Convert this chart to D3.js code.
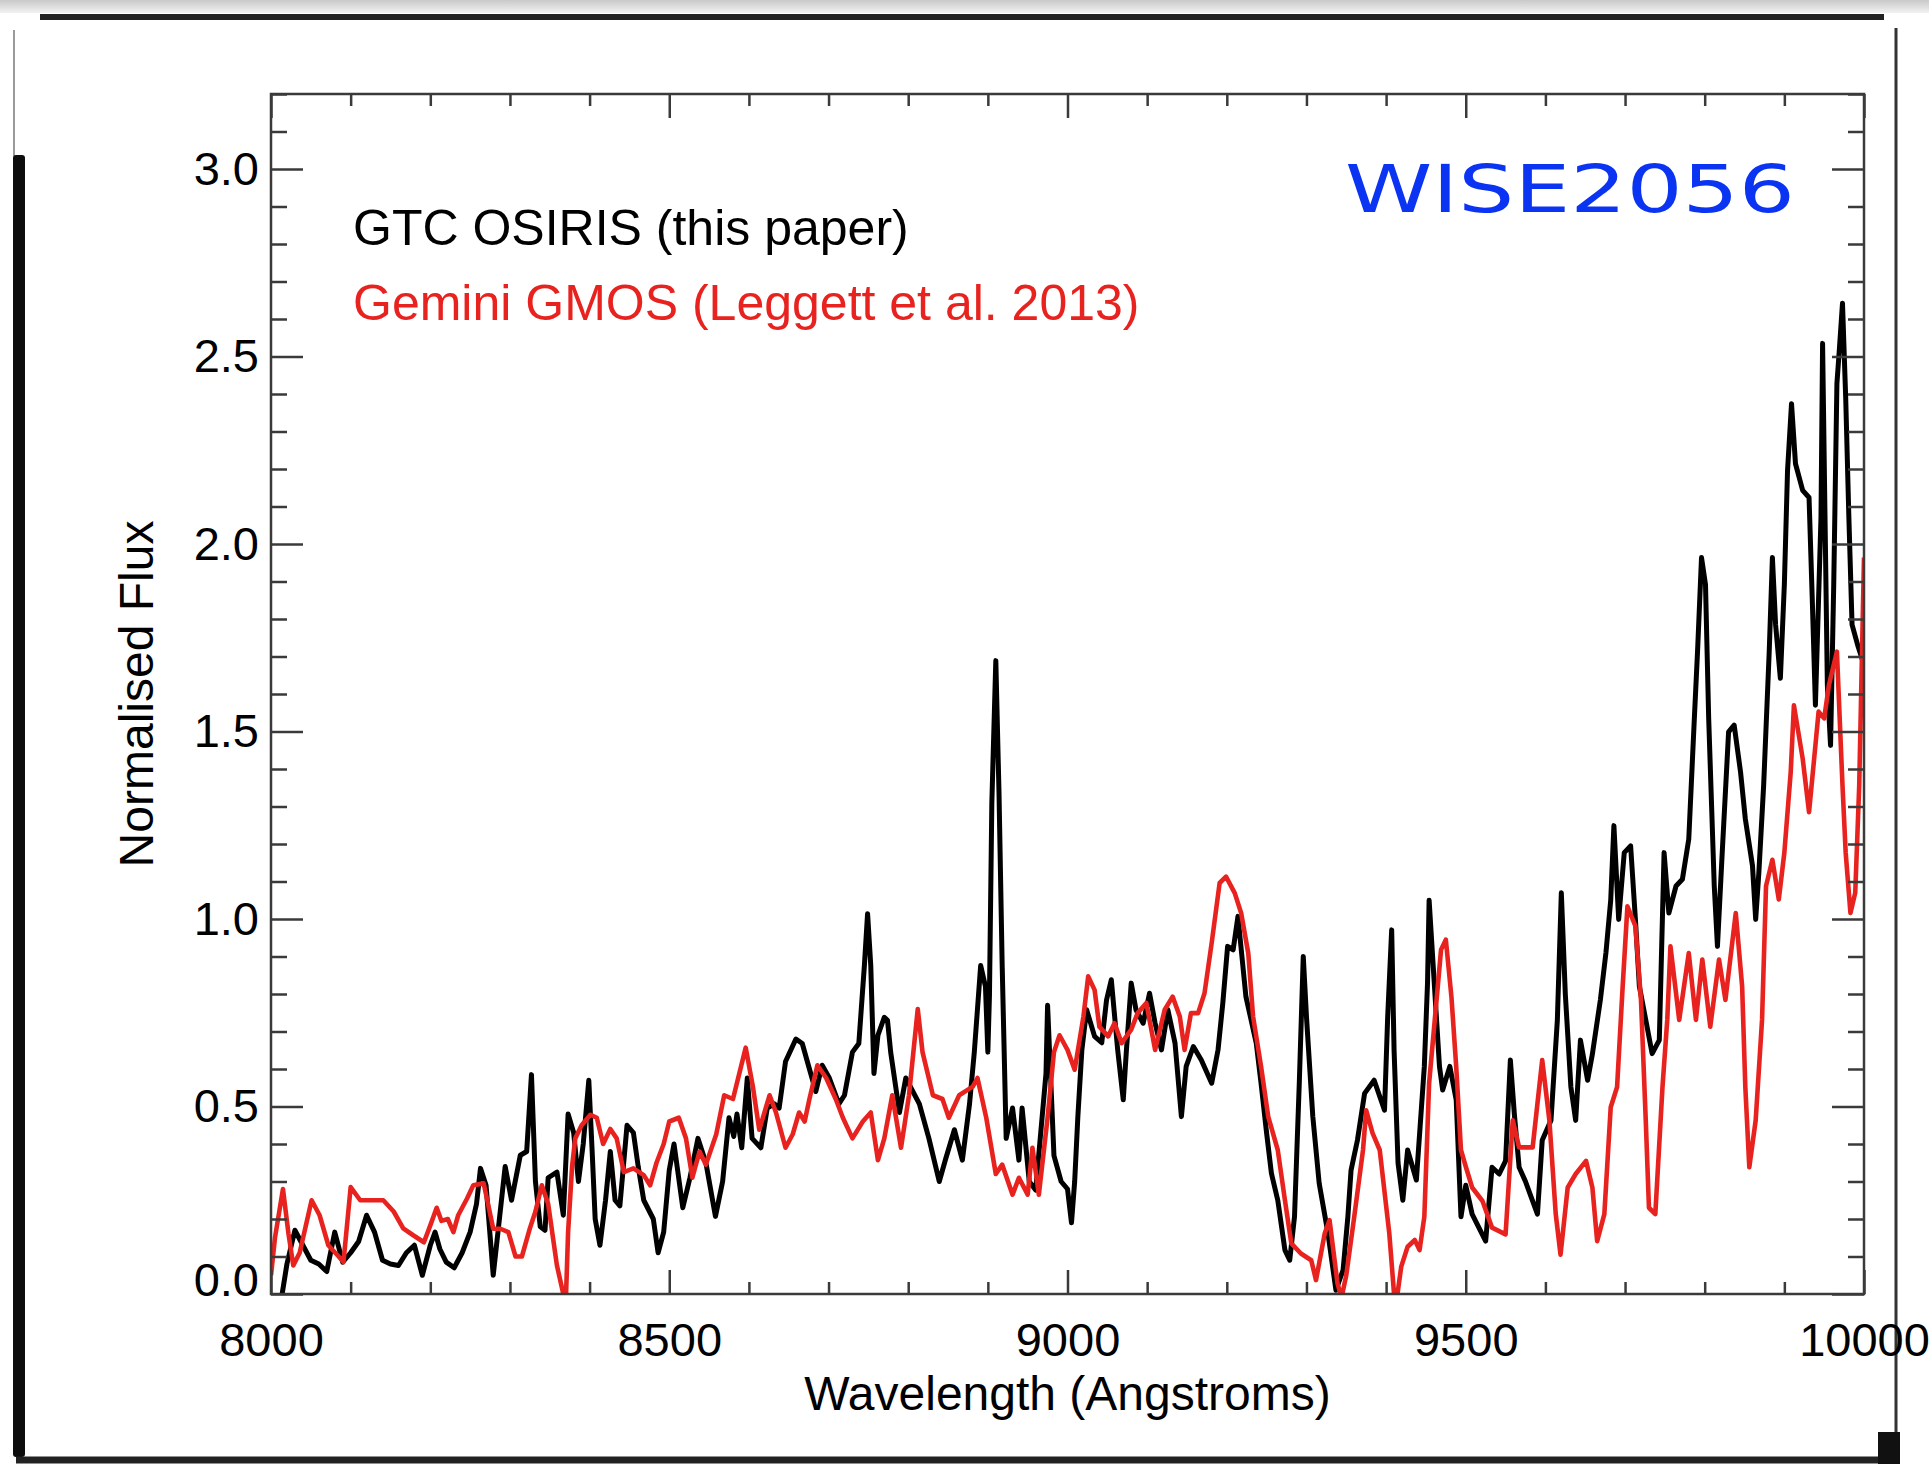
<!DOCTYPE html>
<html>
<head>
<meta charset="utf-8">
<script src="https://cdn.jsdelivr.net/npm/d3@7"></script>
<style>
  html, body { margin: 0; padding: 0; background: #fff; }
  svg { display: block; }
</style>
</head>
<body>
<svg id="chart" width="1929" height="1464"></svg>
<script>
// ---- tick values and labels ----
const xTicksMajor = [8000, 8500, 9000, 9500, 10000];
const xTickLabels = ["8000", "8500", "9000", "9500", "10000"];
const yTicksMajor = [0, 0.5, 1.0, 1.5, 2.0, 2.5, 3.0];
const yTickLabels = ["0.0", "0.5", "1.0", "1.5", "2.0", "2.5", "3.0"];

// ---- spectra: [wavelength (Angstrom), normalised flux] ----
const osiris = [
  [8005,-0.05],[8014,0.0],[8020,0.08],[8030,0.17],[8040,0.13],[8050,0.09],[8060,0.08],[8070,0.06],
  [8080,0.165],[8090,0.085],[8100,0.11],[8110,0.14],[8120,0.21],[8130,0.165],[8140,0.09],[8150,0.08],
  [8160,0.076],[8170,0.11],[8180,0.13],[8190,0.05],[8200,0.13],[8206,0.165],[8212,0.12],[8220,0.085],
  [8230,0.07],[8240,0.11],[8250,0.165],[8258,0.24],[8263,0.335],[8270,0.29],[8279,0.05],[8294,0.34],
  [8302,0.25],[8313,0.37],[8321,0.38],[8327,0.585],[8332,0.30],[8338,0.18],[8344,0.17],[8348,0.31],
  [8359,0.325],[8367,0.21],[8373,0.48],[8380,0.43],[8386,0.30],[8392,0.40],[8399,0.57],[8403,0.39],
  [8407,0.20],[8413,0.13],[8420,0.25],[8426,0.38],[8432,0.25],[8438,0.235],[8447,0.45],[8455,0.43],
  [8461,0.34],[8468,0.25],[8480,0.20],[8486,0.11],[8493,0.165],[8500,0.33],[8506,0.40],[8517,0.23],
  [8526,0.31],[8536,0.415],[8546,0.35],[8558,0.207],[8567,0.30],[8575,0.47],[8581,0.42],[8585,0.48],
  [8591,0.39],[8598,0.576],[8604,0.415],[8615,0.39],[8623,0.496],[8632,0.507],[8638,0.496],[8646,0.62],
  [8659,0.68],[8667,0.668],[8676,0.60],[8684,0.54],[8692,0.61],[8701,0.576],[8713,0.507],[8720,0.53],
  [8730,0.645],[8738,0.668],[8745,0.876],[8749,1.014],[8753,0.876],[8757,0.588],[8762,0.69],[8770,0.738],
  [8774,0.73],[8778,0.645],[8789,0.484],[8797,0.576],[8814,0.507],[8826,0.415],[8839,0.30],[8847,0.36],
  [8858,0.438],[8868,0.357],[8877,0.507],[8883,0.645],[8891,0.876],[8897,0.82],[8900,0.645],[8902,0.795],
  [8905,1.31],[8910,1.689],[8914,1.337],[8918,0.876],[8923,0.415],[8931,0.496],[8939,0.357],[8943,0.496],
  [8952,0.30],[8960,0.277],[8973,0.588],[8975,0.77],[8983,0.369],[8992,0.30],[9000,0.28],[9005,0.19],
  [9009,0.30],[9013,0.473],[9018,0.65],[9024,0.758],[9034,0.687],[9043,0.67],[9049,0.784],[9055,0.838],
  [9063,0.651],[9070,0.518],[9074,0.651],[9080,0.829],[9086,0.758],[9095,0.722],[9103,0.802],[9110,0.722],
  [9118,0.651],[9126,0.758],[9135,0.669],[9143,0.473],[9149,0.607],[9158,0.66],[9168,0.624],[9181,0.562],
  [9189,0.651],[9195,0.776],[9201,0.927],[9208,0.918],[9214,1.007],[9224,0.793],[9237,0.669],[9243,0.562],
  [9250,0.429],[9256,0.322],[9264,0.25],[9273,0.117],[9279,0.09],[9285,0.206],[9291,0.562],[9296,0.90],
  [9300,0.74],[9308,0.473],[9316,0.295],[9327,0.162],[9337,0.01],[9346,0.064],[9352,0.206],[9356,0.33],
  [9364,0.41],[9373,0.535],[9385,0.57],[9398,0.49],[9402,0.74],[9407,0.971],[9410,0.651],[9415,0.349],
  [9421,0.25],[9427,0.384],[9438,0.304],[9448,0.607],[9452,0.829],[9454,1.05],[9461,0.811],[9467,0.607],
  [9471,0.544],[9480,0.607],[9488,0.518],[9494,0.206],[9500,0.29],[9508,0.213],[9525,0.141],[9533,0.338],
  [9542,0.32],[9550,0.355],[9556,0.624],[9561,0.48],[9567,0.338],[9575,0.30],[9590,0.213],[9596,0.41],
  [9607,0.463],[9615,0.73],[9620,1.07],[9625,0.80],[9632,0.552],[9638,0.463],[9644,0.677],[9653,0.57],
  [9659,0.64],[9669,0.784],[9676,0.91],[9682,1.05],[9686,1.249],[9692,0.999],[9699,1.177],[9707,1.195],
  [9713,0.999],[9718,0.82],[9726,0.731],[9734,0.641],[9743,0.677],[9749,1.177],[9755,1.016],[9764,1.088],
  [9772,1.106],[9780,1.213],[9787,1.535],[9791,1.713],[9796,1.964],[9801,1.892],[9805,1.535],[9812,1.088],
  [9816,0.927],[9822,1.177],[9830,1.499],[9837,1.517],[9845,1.392],[9851,1.267],[9860,1.142],[9864,0.999],
  [9868,1.124],[9874,1.356],[9881,1.713],[9885,1.964],[9889,1.785],[9895,1.642],[9900,1.892],[9904,2.196],
  [9909,2.374],[9914,2.214],[9923,2.143],[9931,2.124],[9935,1.856],[9939,1.57],[9946,2.071],[9948,2.535],
  [9954,1.624],[9958,1.463],[9962,1.892],[9966,2.428],[9969,2.517],[9973,2.642],[9977,2.392],[9981,2.071],
  [9985,1.785],[9992,1.731],[10000,1.678]
];

const gmos = [
  [8000,0.05],[8005,0.15],[8015,0.28],[8022,0.16],[8028,0.076],[8036,0.11],[8051,0.25],[8061,0.21],
  [8072,0.13],[8085,0.10],[8091,0.085],[8100,0.285],[8112,0.25],[8129,0.25],[8141,0.25],[8154,0.22],
  [8166,0.175],[8179,0.156],[8192,0.138],[8200,0.183],[8208,0.23],[8214,0.195],[8222,0.20],[8229,0.165],
  [8235,0.21],[8246,0.254],[8254,0.29],[8267,0.295],[8273,0.235],[8279,0.174],[8288,0.174],[8298,0.165],
  [8307,0.10],[8315,0.10],[8325,0.175],[8332,0.22],[8340,0.29],[8348,0.24],[8359,0.076],[8367,0.0],
  [8370,-0.03],[8373,0.165],[8378,0.34],[8382,0.415],[8390,0.45],[8401,0.478],[8409,0.47],[8417,0.40],
  [8426,0.44],[8434,0.415],[8443,0.325],[8455,0.335],[8468,0.317],[8476,0.29],[8484,0.35],[8493,0.40],
  [8500,0.46],[8512,0.47],[8521,0.415],[8529,0.31],[8538,0.38],[8546,0.345],[8559,0.426],[8569,0.53],
  [8580,0.52],[8596,0.657],[8605,0.553],[8613,0.438],[8626,0.53],[8634,0.484],[8646,0.39],[8655,0.426],
  [8663,0.484],[8670,0.46],[8676,0.52],[8686,0.61],[8697,0.576],[8709,0.52],[8718,0.47],[8730,0.415],
  [8743,0.46],[8753,0.484],[8762,0.357],[8770,0.415],[8780,0.53],[8791,0.39],[8801,0.53],[8812,0.76],
  [8818,0.645],[8831,0.53],[8843,0.52],[8851,0.47],[8864,0.53],[8881,0.553],[8887,0.576],[8898,0.47],
  [8910,0.32],[8918,0.345],[8931,0.265],[8939,0.31],[8950,0.265],[8956,0.39],[8964,0.265],[8975,0.47],
  [8983,0.645],[8990,0.69],[9000,0.651],[9009,0.598],[9020,0.74],[9026,0.847],[9034,0.811],[9040,0.713],
  [9051,0.687],[9059,0.722],[9068,0.669],[9080,0.705],[9088,0.749],[9099,0.776],[9110,0.651],[9122,0.758],
  [9132,0.793],[9141,0.74],[9147,0.651],[9155,0.749],[9164,0.749],[9172,0.802],[9181,0.936],[9191,1.096],
  [9199,1.113],[9210,1.069],[9218,1.016],[9227,0.908],[9233,0.74],[9243,0.607],[9252,0.473],[9264,0.384],
  [9273,0.25],[9281,0.135],[9293,0.108],[9306,0.09],[9312,0.037],[9323,0.162],[9329,0.197],[9339,0.028],
  [9344,-0.01],[9350,0.05],[9360,0.206],[9371,0.384],[9375,0.49],[9383,0.429],[9392,0.384],[9404,0.162],
  [9410,0.0],[9413,-0.02],[9419,0.073],[9427,0.126],[9436,0.144],[9442,0.117],[9448,0.206],[9454,0.562],
  [9463,0.776],[9469,0.918],[9475,0.945],[9482,0.793],[9488,0.607],[9494,0.384],[9500,0.34],[9508,0.284],
  [9521,0.248],[9533,0.177],[9550,0.159],[9559,0.463],[9567,0.391],[9584,0.391],[9596,0.624],[9605,0.463],
  [9613,0.213],[9619,0.105],[9628,0.284],[9638,0.32],[9651,0.355],[9659,0.284],[9665,0.141],[9674,0.213],
  [9682,0.498],[9690,0.552],[9697,0.82],[9703,1.034],[9713,0.981],[9720,0.784],[9726,0.463],[9730,0.23],
  [9738,0.213],[9747,0.552],[9753,0.731],[9757,0.927],[9768,0.731],[9780,0.909],[9789,0.731],[9797,0.892],
  [9807,0.713],[9818,0.892],[9826,0.784],[9839,1.016],[9847,0.82],[9851,0.552],[9856,0.338],[9864,0.463],
  [9872,0.731],[9877,1.088],[9885,1.158],[9893,1.052],[9900,1.177],[9908,1.392],[9912,1.57],[9923,1.428],
  [9931,1.285],[9939,1.463],[9943,1.553],[9950,1.535],[9956,1.624],[9966,1.713],[9973,1.356],[9977,1.177],
  [9983,1.016],[9989,1.07],[9994,1.356],[10000,1.964]
];

const seriesNames = ["GTC OSIRIS (this paper)", "Gemini GMOS (Leggett et al. 2013)"];
const objectName = "WISE2056";

// ---- layout ----
const svg = d3.select("#chart");
const plot = { left: 271, right: 1864, top: 94, bottom: 1294 };
const FONT = "'Liberation Sans', Arial, Helvetica, sans-serif";
const AXIS_COLOR = "#3a3a3a";
const RED = "#e8231f";

const x = d3.scaleLinear().domain([8000, 10000]).range([plot.left, plot.right]);
const y = d3.scaleLinear().domain([0, 3.2]).range([plot.bottom, plot.top]);

// ---- page frame ----
const defs = svg.append("defs");
const topGrad = defs.append("linearGradient").attr("id", "topShade")
  .attr("x1", 0).attr("y1", 0).attr("x2", 0).attr("y2", 1);
topGrad.append("stop").attr("offset", "0%").attr("stop-color", "#c9c9c9");
topGrad.append("stop").attr("offset", "100%").attr("stop-color", "#f2f2f2");

svg.append("rect").attr("x", 0).attr("y", 0).attr("width", 1929).attr("height", 13)
  .attr("fill", "url(#topShade)");
svg.append("line").attr("x1", 40).attr("x2", 1884).attr("y1", 17).attr("y2", 17)
  .attr("stroke", "#222").attr("stroke-width", 6);
svg.append("line").attr("x1", 14).attr("x2", 14).attr("y1", 30).attr("y2", 156)
  .attr("stroke", "#9a9a9a").attr("stroke-width", 2);
svg.append("rect").attr("x", 13).attr("y", 155).attr("width", 12).attr("height", 1302)
  .attr("rx", 3).attr("fill", "#0d0d0d");
svg.append("line").attr("x1", 16).attr("x2", 1900).attr("y1", 1460).attr("y2", 1460)
  .attr("stroke", "#222").attr("stroke-width", 7);
svg.append("line").attr("x1", 1896).attr("x2", 1896).attr("y1", 28).attr("y2", 1440)
  .attr("stroke", "#333").attr("stroke-width", 3);
svg.append("rect").attr("x", 1878).attr("y", 1432).attr("width", 22).attr("height", 32)
  .attr("fill", "#111");

// ---- spectra ----
defs.append("clipPath").attr("id", "plotClip").append("rect")
  .attr("x", plot.left).attr("y", plot.top)
  .attr("width", plot.right - plot.left).attr("height", plot.bottom - plot.top);

const line = d3.line().x(d => x(d[0])).y(d => y(d[1]));
const lines = svg.append("g").attr("clip-path", "url(#plotClip)");
lines.append("path").datum(osiris).attr("d", line)
  .attr("fill", "none").attr("stroke", "#000").attr("stroke-width", 5)
  .attr("stroke-linejoin", "round");
lines.append("path").datum(gmos).attr("d", line)
  .attr("fill", "none").attr("stroke", RED).attr("stroke-width", 4.6)
  .attr("stroke-linejoin", "round");

// ---- axes (ticks on all four sides, pointing inward) ----
const xMinor = d3.range(8000, 10001, 100).filter(v => v % 500 !== 0);
const yMinor = d3.range(0, 33).map(i => i / 10).filter(v => Math.abs(v * 2 - Math.round(v * 2)) > 1e-6);

function styleAxis(g) {
  g.select(".domain").remove();
  g.selectAll(".tick line").attr("stroke", AXIS_COLOR).attr("stroke-width", 2.5);
  g.selectAll("text").attr("fill", "#000").attr("font-family", FONT).attr("font-size", 47);
}

// bottom
svg.append("g").attr("transform", `translate(0,${plot.bottom})`)
  .call(d3.axisBottom(x).tickValues(xTicksMajor).tickSize(-24).tickPadding(29)
    .tickFormat((d, i) => xTickLabels[i]))
  .call(styleAxis);
svg.append("g").attr("transform", `translate(0,${plot.bottom})`)
  .call(d3.axisBottom(x).tickValues(xMinor).tickSize(-12).tickFormat(() => ""))
  .call(styleAxis);
// top
svg.append("g").attr("transform", `translate(0,${plot.top})`)
  .call(d3.axisTop(x).tickValues(xTicksMajor).tickSize(-24).tickFormat(() => ""))
  .call(styleAxis);
svg.append("g").attr("transform", `translate(0,${plot.top})`)
  .call(d3.axisTop(x).tickValues(xMinor).tickSize(-12).tickFormat(() => ""))
  .call(styleAxis);
// left
const leftAxis = svg.append("g").attr("transform", `translate(${plot.left},0)`)
  .call(d3.axisLeft(y).tickValues(yTicksMajor).tickSize(-32).tickPadding(12)
    .tickFormat((d, i) => yTickLabels[i]))
  .call(styleAxis);
leftAxis.selectAll(".tick text").filter(d => d === 0).attr("y", -14);
svg.append("g").attr("transform", `translate(${plot.left},0)`)
  .call(d3.axisLeft(y).tickValues(yMinor).tickSize(-16).tickFormat(() => ""))
  .call(styleAxis);
// right
svg.append("g").attr("transform", `translate(${plot.right},0)`)
  .call(d3.axisRight(y).tickValues(yTicksMajor).tickSize(-32).tickFormat(() => ""))
  .call(styleAxis);
svg.append("g").attr("transform", `translate(${plot.right},0)`)
  .call(d3.axisRight(y).tickValues(yMinor).tickSize(-16).tickFormat(() => ""))
  .call(styleAxis);

// plot frame
svg.append("rect").attr("x", plot.left).attr("y", plot.top)
  .attr("width", plot.right - plot.left).attr("height", plot.bottom - plot.top)
  .attr("fill", "none").attr("stroke", AXIS_COLOR).attr("stroke-width", 2.5);

// ---- axis titles ----
svg.append("text").attr("x", (plot.left + plot.right) / 2).attr("y", 1410)
  .attr("text-anchor", "middle").attr("font-family", FONT).attr("font-size", 48)
  .attr("fill", "#000").text("Wavelength (Angstroms)");
svg.append("text").attr("transform", `translate(153,${(plot.top + plot.bottom) / 2}) rotate(-90)`)
  .attr("text-anchor", "middle").attr("font-family", FONT).attr("font-size", 48)
  .attr("fill", "#000").text("Normalised Flux");

// ---- legend ----
svg.append("text").attr("x", 353).attr("y", 245).attr("font-family", FONT)
  .attr("font-size", 50).attr("fill", "#000").text(seriesNames[0]);
svg.append("text").attr("x", 353).attr("y", 320).attr("font-family", FONT)
  .attr("font-size", 50).attr("fill", RED).text(seriesNames[1]);

// ---- object label ----
svg.append("text").attr("x", 1345).attr("y", 212)
  .attr("font-family", "'DejaVu Sans', sans-serif").attr("font-size", 66)
  .attr("fill", "#0b34f2").attr("textLength", 450).attr("lengthAdjust", "spacingAndGlyphs")
  .text(objectName);
</script>
</body>
</html>
